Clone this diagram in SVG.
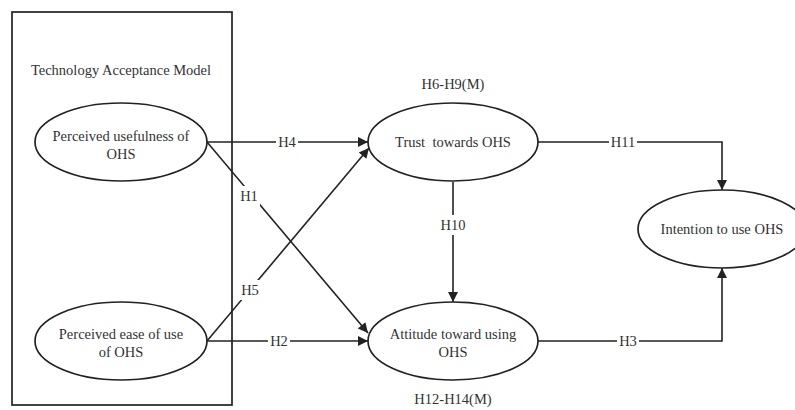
<svg xmlns="http://www.w3.org/2000/svg" width="795" height="410" viewBox="0 0 795 410">
<style>
text{font-family:"Liberation Serif","Times New Roman",serif;font-size:14.5px;fill:#333;text-anchor:middle}
.n{fill:#fff;stroke:#222;stroke-width:1.7}
.c{fill:none;stroke:#222;stroke-width:1.6}
.lb{fill:#fff;stroke:none}
</style>
<defs>
<marker id="ah" viewBox="0 0 10 10" refX="10" refY="5" markerWidth="13" markerHeight="10" markerUnits="userSpaceOnUse" orient="auto">
<path d="M0,0 L10,5 L0,10 z" fill="#222"/>
</marker>
</defs>
<rect width="795" height="410" fill="#fff"/>
<g id="tam-box">
<rect x="12" y="12" width="220" height="393" fill="none" stroke="#222" stroke-width="1.7"/>
<text x="121" y="75">Technology Acceptance Model</text>
</g>
<g id="connectors">
<line class="c" x1="207" y1="142" x2="368" y2="142" marker-end="url(#ah)"/>
<line class="c" x1="207" y1="142" x2="368" y2="333" marker-end="url(#ah)"/>
<line class="c" x1="207" y1="341" x2="369" y2="148" marker-end="url(#ah)"/>
<line class="c" x1="207" y1="341" x2="368" y2="341" marker-end="url(#ah)"/>
<line class="c" x1="453" y1="182" x2="453" y2="302" marker-end="url(#ah)"/>
<polyline class="c" points="538,142 722,142 722,190" marker-end="url(#ah)"/>
<polyline class="c" points="538,341 722,341 722,268" marker-end="url(#ah)"/>
<rect class="lb" x="276" y="134" width="22" height="16"/>
<text x="287" y="147">H4</text>
<rect class="lb" x="238" y="186" width="22" height="20"/>
<text x="249" y="201">H1</text>
<rect class="lb" x="239" y="280" width="22" height="20"/>
<text x="250" y="295">H5</text>
<rect class="lb" x="268" y="333" width="22" height="16"/>
<text x="279" y="346">H2</text>
<rect class="lb" x="440" y="215" width="27" height="20"/>
<text x="453" y="230">H10</text>
<rect class="lb" x="609" y="134" width="28" height="16"/>
<text x="623" y="147">H11</text>
<rect class="lb" x="617" y="333" width="22" height="16"/>
<text x="628" y="346">H3</text>
</g>
<g id="perceived-usefulness">
<ellipse class="n" cx="121" cy="142" rx="86" ry="39"/>
<text x="121" y="141">Perceived usefulness of</text>
<text x="121" y="159">OHS</text>
</g>
<g id="perceived-ease">
<ellipse class="n" cx="121" cy="341" rx="86" ry="39"/>
<text x="121" y="339">Perceived ease of use</text>
<text x="121" y="357">of OHS</text>
</g>
<g id="trust">
<ellipse class="n" cx="453" cy="142" rx="85" ry="39"/>
<text x="453" y="147" xml:space="preserve">Trust  towards OHS</text>
<text x="453" y="89">H6-H9(M)</text>
</g>
<g id="attitude">
<ellipse class="n" cx="453" cy="341" rx="85" ry="39"/>
<text x="453" y="339">Attitude toward using</text>
<text x="453" y="357">OHS</text>
<text x="453" y="404">H12-H14(M)</text>
</g>
<g id="intention">
<ellipse class="n" cx="722" cy="229" rx="84" ry="39"/>
<text x="722" y="234">Intention to use OHS</text>
</g>
</svg>
